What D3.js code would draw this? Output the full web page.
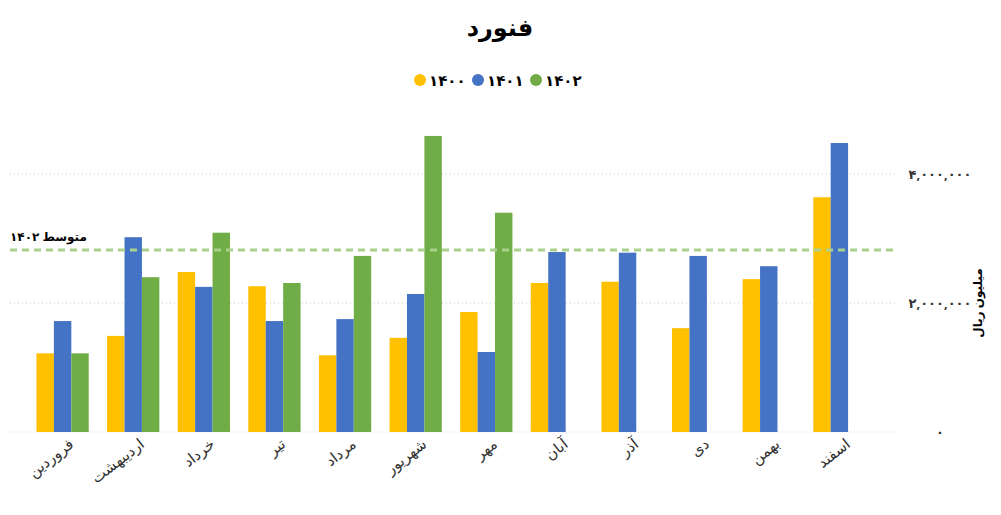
<!DOCTYPE html>
<html><head><meta charset="utf-8">
<script src="https://cdn.jsdelivr.net/npm/d3@7"></script>
<style>body{margin:0;background:#fff;font-family:"Noto Sans","DejaVu Sans",sans-serif}</style>
</head><body><div id="chart"></div>
<script>
const months = ['فروردین','اردیبهشت','خرداد','تیر','مرداد','شهریور','مهر','آبان','آذر','دی','بهمن','اسفند'];
const years = ['۱۴۰۰','۱۴۰۱','۱۴۰۲'];
const colors = ['#FFC000','#4472C4','#70AD47'];
const v1400 = [1220000,1490000,2480000,2260000,1190000,1460000,1860000,2310000,2330000,1610000,2370000,3640000];
const v1401 = [1720000,3020000,2250000,1720000,1750000,2140000,1240000,2790000,2780000,2730000,2570000,4480000];
const v1402 = [1220000,2400000,3090000,2310000,2730000,4590000,3400000,null,null,null,null,null];
const yTicks = [0,2000000,4000000];
const avgLabel = 'متوسط ۱۴۰۲';

const W = 1001, H = 515;
const fa = n => d3.format(',')(n).replace(/\d/g, d => '۰۱۲۳۴۵۶۷۸۹'[d]);
const series = [v1400, v1401, v1402];
const g1402 = v1402.filter(v => v != null);
const avg = d3.mean(g1402);

const svg = d3.select('#chart').append('svg').attr('width', W).attr('height', H);

const x = d3.scaleBand().domain(months).range([28, 874]).paddingInner(0.26).paddingOuter(0.12);
const xs = d3.scaleBand().domain(years).range([0, x.bandwidth()]);
const y = d3.scaleLinear().domain([0, 4000000]).range([432, 174]);

svg.append('g').selectAll('line').data(yTicks).join('line')
  .attr('x1', 10).attr('x2', 895).attr('y1', d => y(d)).attr('y2', d => y(d))
  .attr('stroke', '#ccc').attr('stroke-dasharray', '1,3');

svg.append('g').selectAll('text').data(yTicks).join('text')
  .attr('x', 940).attr('y', d => y(d) + 5).attr('text-anchor', 'middle')
  .attr('font-size', 13).attr('font-weight', 'bold').attr('fill', '#333').text(d => fa(d));

svg.append('text').attr('transform', 'translate(982,303) rotate(-90)')
  .attr('text-anchor', 'middle').attr('font-size', 12).attr('font-weight', 'bold').text('میلیون ریال');

series.forEach((s, i) => {
  svg.append('g').selectAll('rect').data(months.map((m, j) => ({m, v: s[j]})).filter(d => d.v != null))
    .join('rect')
    .attr('x', d => x(d.m) + xs(years[i])).attr('width', xs.bandwidth())
    .attr('y', d => y(d.v)).attr('height', d => y(0) - y(d.v)).attr('fill', colors[i]);
});

svg.append('line').attr('x1', 10).attr('x2', 895).attr('y1', y(avg)).attr('y2', y(avg))
  .attr('stroke', '#A9D18E').attr('stroke-width', 3).attr('stroke-dasharray', '7,5');
svg.append('text').attr('x', 10).attr('y', y(avg) - 9).attr('font-size', 12)
  .attr('font-weight', 'bold').attr('direction', 'rtl').attr('text-anchor', 'end').text(avgLabel);

svg.append('g').selectAll('text').data(months).join('text')
  .attr('transform', d => `translate(${x(d) + x.bandwidth() / 2 + 12},446) rotate(-38)`)
  .attr('text-anchor', 'end').attr('font-size', 15).attr('fill', '#333').text(d => d);

svg.append('text').attr('x', 500).attr('y', 36).attr('text-anchor', 'middle')
  .attr('font-size', 24).attr('font-weight', 'bold').text('فنورد');

const leg = svg.append('g').selectAll('g').data(years).join('g')
  .attr('transform', (d, i) => `translate(${420 + i * 58},80)`);
leg.append('circle').attr('r', 6).attr('fill', (d, i) => colors[i]);
leg.append('text').attr('x', 9).attr('y', 6).attr('font-size', 15).attr('font-weight', 'bold').text(d => d);
</script></body></html>
